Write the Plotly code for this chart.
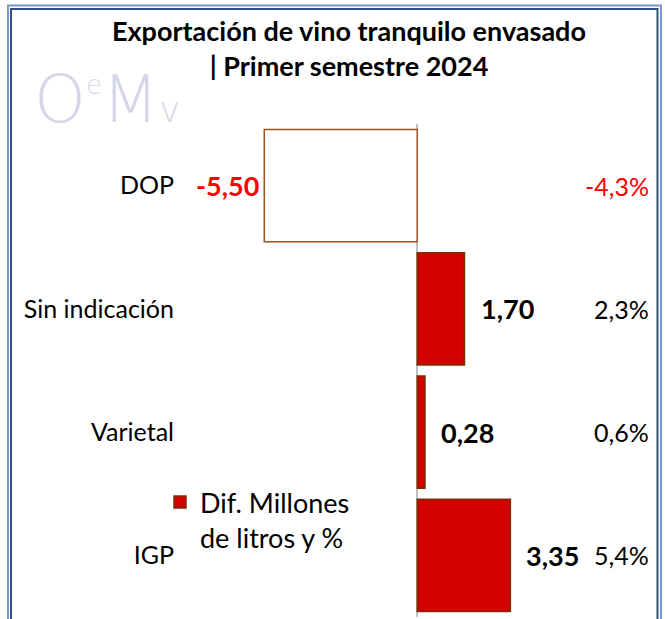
import plotly.graph_objects as go

# categories listed bottom-to-top (the y axis draws the first one at the bottom)
categories = ["IGP", "Varietal", "Sin indicación", "DOP"]
dif_millones = [3.35, 0.28, 1.70, -5.50]
pct_labels = ["5,4%", "0,6%", "2,3%", "-4,3%"]
value_labels = ["3,35", "0,28", "1,70", "-5,50"]
series_name = "Dif. Millones<br>de litros y %"
title_text = "Exportación de vino tranquilo envasado<br>| Primer semestre 2024"

W, H = 665, 619
ML, MR, MT, MB = 185, 10, 124, 2
PW, PH = W - ML - MR, H - MT - MB

def px(x):
    return (x - ML) / PW

def py(y):
    return (H - MB - y) / PH

FONT = "Lato"
RED = "#d40000"
fills = [RED if v >= 0 else "#ffffff" for v in dif_millones]
lines = ["#7a3000" if v >= 0 else "#a0541e" for v in dif_millones]

fig = go.Figure()
fig.add_trace(go.Bar(
    x=dif_millones, y=categories, orientation="h", name=series_name,
    marker=dict(color=fills, line=dict(color=lines, width=1.5)),
    width=0.91, showlegend=True,
))

annotations = []
for c, v, t in zip(categories, dif_millones, value_labels):
    neg = v < 0
    annotations.append(dict(
        x=v, y=c, xref="x", yref="y", text="<b>%s</b>" % t, showarrow=False,
        xanchor="right" if neg else "left", xshift=-3 if neg else 14,
        font=dict(family=FONT, size=27, color="#ff0000" if neg else "#000000"),
    ))
for c, v, t in zip(categories, dif_millones, pct_labels):
    annotations.append(dict(
        x=px(651), y=c, xref="paper", yref="y", text=t, showarrow=False,
        xanchor="right",
        font=dict(family=FONT, size=25, color="#ff0000" if v < 0 else "#000000"),
    ))
# title
annotations.append(dict(
    x=px(349), y=py(48), xref="paper", yref="paper", text="<b>%s</b>" % title_text,
    showarrow=False, xanchor="center", yanchor="middle",
    font=dict(family=FONT, size=27, color="#000000"),
))
# logo
logo = ("O<sup><span style='font-size:26px'>e</span></sup>M"
        "<span style='font-size:36px'>v</span>")
annotations.append(dict(
    x=px(32), y=py(100), xref="paper", yref="paper",
    text=logo, showarrow=False, xanchor="left", yanchor="middle",
    font=dict(family="DejaVu Sans", size=66, color="#d6d6ea", weight=200),
))

shapes = [
    dict(type="rect", xref="paper", yref="paper", x0=px(8), x1=px(661), y0=py(640), y1=py(5.5),
         line=dict(color="#7a98c8", width=2), layer="below"),
    dict(type="rect", xref="paper", yref="paper", x0=px(11), x1=px(657.5), y0=py(640), y1=py(9),
         line=dict(color="#2f4f88", width=2), layer="below"),
]

fig.update_layout(
    width=W, height=H, margin=dict(l=ML, r=MR, t=MT, b=MB, autoexpand=False),
    paper_bgcolor="#ffffff", plot_bgcolor="#ffffff",
    font=dict(family=FONT, size=25, color="#000000"),
    xaxis=dict(range=[-8.35, 8.55], showgrid=False, zeroline=True, zerolinecolor="#c0c0c0",
               zerolinewidth=1.5, showticklabels=False, ticks="", automargin=False),
    yaxis=dict(categoryorder="array", categoryarray=categories,
               showgrid=False, zeroline=False, ticks="", ticklabelstandoff=10, automargin=False,
               tickfont=dict(family=FONT, size=25, color="#000000")),
    legend=dict(x=px(160), y=py(478), xanchor="left", yanchor="top", valign="top",
                bgcolor="rgba(0,0,0,0)", font=dict(family=FONT, size=27, color="#000000")),
    annotations=annotations, shapes=shapes, showlegend=True,
)

fig.write_html("out.html", config={"displayModeBar": False},
               post_script="document.body.style.margin='0';")
